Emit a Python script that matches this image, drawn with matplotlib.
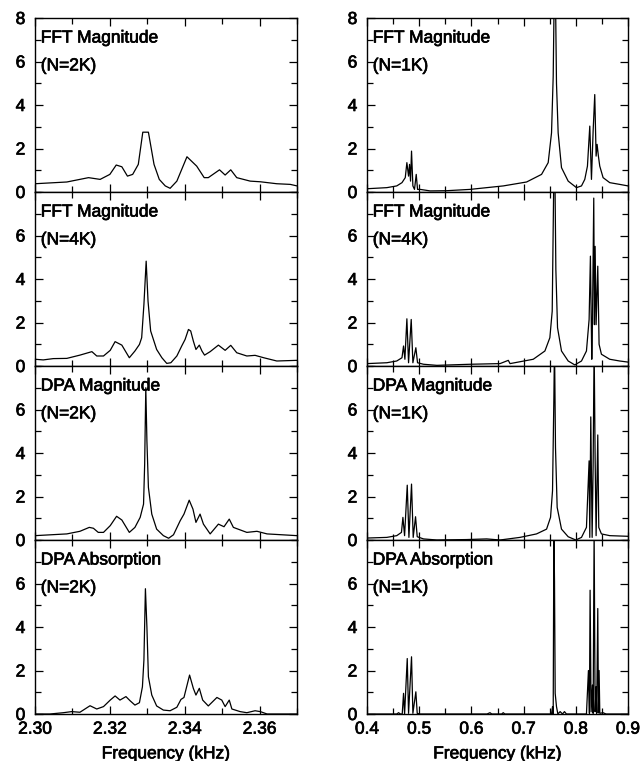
import matplotlib
matplotlib.use('Agg')
import matplotlib.pyplot as plt
import matplotlib.patheffects as pe
from matplotlib.ticker import MultipleLocator

plt.rcParams['font.family'] = ['Liberation Sans', 'DejaVu Sans']

# ---- left column (2.30 - 2.37 kHz) ----
fft2k_l_f = [2.300, 2.3085, 2.3143, 2.3174, 2.320, 2.3217, 2.3232, 2.3247, 2.3261, 2.3276,
             2.3288, 2.3303, 2.3318, 2.3332, 2.3348, 2.3361, 2.3379, 2.3406, 2.3432, 2.3452,
             2.3463, 2.3493, 2.3508, 2.3523, 2.3539, 2.3575, 2.3602, 2.3646, 2.3682, 2.370]
fft2k_l_v = [0.38, 0.46, 0.66, 0.58, 0.81, 1.24, 1.16, 0.73, 0.81, 1.27,
             2.75, 2.75, 1.27, 0.58, 0.28, 0.17, 0.50, 1.62, 1.19, 0.66,
             0.66, 1.02, 0.78, 1.02, 0.66, 0.50, 0.47, 0.38, 0.35, 0.28]

fft4k_l_f = [2.300, 2.3022, 2.3049, 2.3085, 2.312, 2.3152, 2.3165, 2.3183, 2.3201, 2.3214,
             2.3232, 2.3252, 2.3267, 2.3279, 2.3285, 2.3291, 2.3297, 2.3302, 2.3309, 2.3325,
             2.3339, 2.3352, 2.3363, 2.3379, 2.3392, 2.3401, 2.341, 2.3416, 2.3423, 2.343,
             2.3439, 2.3446, 2.3453, 2.3468, 2.349, 2.3508, 2.3523, 2.3539, 2.3566, 2.3588,
             2.3611, 2.3646, 2.370]
fft4k_l_v = [0.31, 0.28, 0.34, 0.35, 0.50, 0.66, 0.46, 0.46, 0.72, 1.12,
             0.96, 0.38, 0.69, 0.99, 1.30, 2.83, 4.82, 2.98, 1.61, 0.76,
             0.38, 0.12, 0.15, 0.46, 0.92, 1.22, 1.68, 1.61, 1.15, 0.76,
             0.96, 0.69, 0.50, 0.66, 0.96, 0.72, 0.95, 0.61, 0.46, 0.49,
             0.38, 0.23, 0.26]

dpa_mag_l_f = [2.300, 2.3085, 2.312, 2.3145, 2.3156, 2.3169, 2.3183, 2.3201, 2.3218, 2.3232,
               2.3252, 2.3267, 2.3281, 2.329, 2.3293, 2.3296, 2.3299, 2.3303, 2.3312, 2.3325,
               2.3343, 2.3357, 2.337, 2.3388, 2.3398, 2.3412, 2.3422, 2.343, 2.3441, 2.345,
               2.3468, 2.349, 2.3505, 2.3519, 2.353, 2.3566, 2.3593, 2.362, 2.370]
dpa_mag_l_v = [0.20, 0.28, 0.40, 0.58, 0.54, 0.35, 0.35, 0.66, 1.09, 0.92,
               0.35, 0.58, 1.04, 1.65, 3.49, 7.00, 4.56, 2.42, 1.19, 0.50,
               0.20, 0.08, 0.24, 0.89, 1.19, 1.83, 1.42, 0.81, 1.19, 0.73,
               0.28, 0.73, 0.61, 0.96, 0.58, 0.35, 0.40, 0.28, 0.20]

dpa_abs_l_f = [2.300, 2.304, 2.3076, 2.3098, 2.312, 2.3147, 2.3165, 2.3183, 2.3201, 2.3214,
               2.3227, 2.3243, 2.3254, 2.3267, 2.3279, 2.3287, 2.3291, 2.3295, 2.3299, 2.3303,
               2.3312, 2.3325, 2.3343, 2.3361, 2.3379, 2.339, 2.3398, 2.3413, 2.3423, 2.343,
               2.3439, 2.3448, 2.3463, 2.3486, 2.3499, 2.3508, 2.3519, 2.3526, 2.3548, 2.3566,
               2.3588, 2.3602, 2.362, 2.370]
dpa_abs_l_v = [0.00, 0.00, 0.06, 0.11, 0.08, 0.38, 0.23, 0.34, 0.64, 0.83,
               0.64, 0.80, 0.61, 0.41, 0.52, 1.25, 2.48, 5.76, 4.00, 1.71,
               0.87, 0.37, 0.18, 0.15, 0.31, 0.67, 0.76, 1.79, 1.18, 0.87,
               1.18, 0.64, 0.37, 0.76, 0.64, 0.34, 0.64, 0.23, 0.11, 0.06,
               0.15, 0.11, 0.00, 0.00]

# ---- right column (0.4 - 0.9 kHz) ----
fft1k_r_f = [0.400, 0.438, 0.457, 0.467, 0.4733, 0.4764, 0.4796, 0.4815, 0.4834, 0.4853,
             0.4879, 0.491, 0.4943, 0.4968, 0.5019, 0.521, 0.5529, 0.5975, 0.6612, 0.7057,
             0.7344, 0.7471, 0.7535, 0.7567, 0.7586, 0.7611, 0.763, 0.7662, 0.7726, 0.7854,
             0.8013, 0.8109, 0.8172, 0.8223, 0.8268, 0.830, 0.8332, 0.8363, 0.8389, 0.8408,
             0.8433, 0.8459, 0.8523, 0.865, 0.8841, 0.900]
fft1k_r_v = [0.15, 0.20, 0.28, 0.43, 0.66, 1.35, 0.73, 1.27, 0.50, 1.88,
             0.28, 0.12, 0.81, 0.12, 0.12, 0.05, 0.06, 0.12, 0.28, 0.46,
             0.81, 1.35, 2.72, 5.32, 9.00, 9.00, 5.00, 2.72, 1.12, 0.50,
             0.20, 0.28, 0.58, 1.19, 3.03, 0.58, 2.80, 4.48, 1.65, 2.19,
             1.65, 1.19, 0.66, 0.43, 0.35, 0.28]

fft4k_r_f = [0.400, 0.438, 0.457, 0.467, 0.470, 0.4726, 0.4764, 0.4796, 0.4847, 0.4879,
             0.4936, 0.4968, 0.5083, 0.5338, 0.5975, 0.6548, 0.6707, 0.674, 0.7185, 0.7408,
             0.7503, 0.7548, 0.758, 0.7599, 0.7618, 0.765, 0.7726, 0.7854, 0.7981, 0.8109,
             0.8204, 0.8255, 0.828, 0.8306, 0.8319, 0.8344, 0.8357, 0.837, 0.8389, 0.8421,
             0.8446, 0.8491, 0.865, 0.8841, 0.900]
fft4k_r_v = [0.11, 0.15, 0.23, 0.38, 0.92, 0.31, 2.17, 0.15, 2.14, 0.15,
             0.84, 0.15, 0.08, 0.03, 0.08, 0.11, 0.26, 0.11, 0.31, 0.69,
             1.30, 2.52, 9.00, 9.00, 4.43, 1.76, 0.69, 0.23, 0.05, 0.23,
             0.69, 2.14, 5.05, 0.31, 2.00, 7.72, 1.90, 5.50, 1.90, 4.59,
             1.00, 0.54, 0.31, 0.23, 0.18]

dpa_mag_r_f = [0.400, 0.438, 0.457, 0.466, 0.4688, 0.472, 0.4771, 0.4803, 0.4853, 0.4885,
               0.493, 0.4962, 0.5083, 0.5338, 0.590, 0.6293, 0.6548, 0.693, 0.7248, 0.744,
               0.7516, 0.7554, 0.758, 0.7592, 0.7611, 0.7643, 0.7726, 0.7854, 0.800, 0.8109,
               0.8204, 0.8255, 0.8268, 0.8287, 0.8313, 0.8332, 0.8351, 0.837, 0.8389, 0.8421,
               0.844, 0.8491, 0.865, 0.900]
dpa_mag_r_v = [0.09, 0.12, 0.20, 0.35, 1.04, 0.20, 2.52, 0.12, 2.57, 0.12,
               1.07, 0.15, 0.05, 0.00, 0.02, 0.05, 0.00, 0.12, 0.28, 0.50,
               1.04, 2.26, 6.54, 9.00, 4.25, 1.50, 0.50, 0.15, 0.00, 0.12,
               0.58, 3.64, 0.12, 5.66, 0.12, 3.41, 9.00, 3.79, 0.20, 4.83,
               0.58, 0.28, 0.20, 0.17]

dpa_abs_r_f = [0.400, 0.457, 0.4605, 0.464, 0.4675, 0.470, 0.472, 0.4771, 0.4796, 0.4853,
               0.4879, 0.4936, 0.4962, 0.5019, 0.630, 0.6356, 0.639, 0.658, 0.661, 0.664,
               0.7535, 0.7554, 0.7567, 0.758, 0.7592, 0.7605, 0.763, 0.7656, 0.770, 0.7745,
               0.7783, 0.782, 0.8204, 0.8242, 0.8261, 0.8274, 0.8293, 0.8319, 0.8332, 0.8351,
               0.837, 0.8389, 0.840, 0.8421, 0.8434, 0.8446, 0.846, 0.852, 0.858, 0.900]
dpa_abs_r_v = [0.00, 0.00, 0.06, 0.00, 0.00, 0.95, 0.00, 2.55, 0.03, 2.63,
               0.03, 1.02, 0.03, 0.00, 0.00, 0.06, 0.00, 0.00, 0.06, 0.00,
               0.00, 0.34, 0.00, 8.50, 6.10, 0.95, 0.34, 0.00, 0.11, 0.00,
               0.11, 0.00, 0.00, 2.00, 0.03, 5.69, 0.10, 1.33, 0.03, 8.50,
               0.10, 1.25, 0.03, 4.85, 0.05, 2.00, 0.03, 0.06, 0.00, 0.00]

left_panels = [
    (fft2k_l_f, fft2k_l_v, 'FFT Magnitude', '(N=2K)'),
    (fft4k_l_f, fft4k_l_v, 'FFT Magnitude', '(N=4K)'),
    (dpa_mag_l_f, dpa_mag_l_v, 'DPA Magnitude', '(N=2K)'),
    (dpa_abs_l_f, dpa_abs_l_v, 'DPA Absorption', '(N=2K)'),
]
right_panels = [
    (fft1k_r_f, fft1k_r_v, 'FFT Magnitude', '(N=1K)'),
    (fft4k_r_f, fft4k_r_v, 'FFT Magnitude', '(N=4K)'),
    (dpa_mag_r_f, dpa_mag_r_v, 'DPA Magnitude', '(N=1K)'),
    (dpa_abs_r_f, dpa_abs_r_v, 'DPA Absorption', '(N=1K)'),
]

W, H = 640, 761
fig = plt.figure(figsize=(W / 100, H / 100), dpi=100)

FS = 12.5
# thicken the glyphs a little, the original type is heavier than Liberation regular
HEAVY = [pe.withStroke(linewidth=0.5, foreground='black')]
top_px, bot_px = 18, 714
ph = (bot_px - top_px) / 4.0


def setup_axes(ax, xlim, xmajor, xminor, xfmt, show_x, show_8):
    ax.set_xlim(*xlim)
    ax.set_ylim(0, 8)
    ax.xaxis.set_major_locator(MultipleLocator(xmajor))
    ax.xaxis.set_minor_locator(MultipleLocator(xminor))
    ax.yaxis.set_minor_locator(MultipleLocator(1))
    if show_8:
        ax.set_yticks([0, 2, 4, 6, 8])
    else:
        ax.set_yticks([0, 2, 4, 6])
    ax.tick_params(which='both', direction='in', top=True, right=True, width=0.9,
                   labelsize=FS)
    ax.tick_params(axis='x', pad=5.5)
    ax.tick_params(axis='y', pad=7)
    ax.tick_params(which='major', length=6)
    ax.tick_params(which='minor', length=4)
    for s in ax.spines.values():
        s.set_linewidth(1.0)
    if show_x:
        ax.xaxis.set_major_formatter(plt.FormatStrFormatter(xfmt))
        xl = ax.set_xlabel('Frequency (kHz)', fontsize=FS, labelpad=7)
        xl.set_path_effects(HEAVY)
    else:
        ax.tick_params(labelbottom=False)
    for t in ax.xaxis.get_major_ticks() + ax.yaxis.get_major_ticks():
        t.label1.set_path_effects(HEAVY)


cols = [(35, 297, left_panels, (2.30, 2.37), 0.02, 0.01, '%.2f'),
        (367, 628, right_panels, (0.4, 0.9), 0.1, 0.05, '%.1f')]

for x0, x1, panels, xlim, xmaj, xmin, xfmt in cols:
    for i, (f, v, title, sub) in enumerate(panels):
        y_top = top_px + i * ph
        rect = [x0 / W, 1 - (y_top + ph) / H, (x1 - x0) / W, ph / H]
        ax = fig.add_axes(rect)
        ax.plot(f, v, color='black', lw=0.9)
        setup_axes(ax, xlim, xmaj, xmin, xfmt, i == 3, i == 0)
        for txt, yy in [(title, 0.885), (sub, 0.725)]:
            ax.text(0.022, yy, txt, transform=ax.transAxes, fontsize=FS,
                    ha='left', va='center', path_effects=HEAVY)

fig.savefig('out.png', dpi=100)
